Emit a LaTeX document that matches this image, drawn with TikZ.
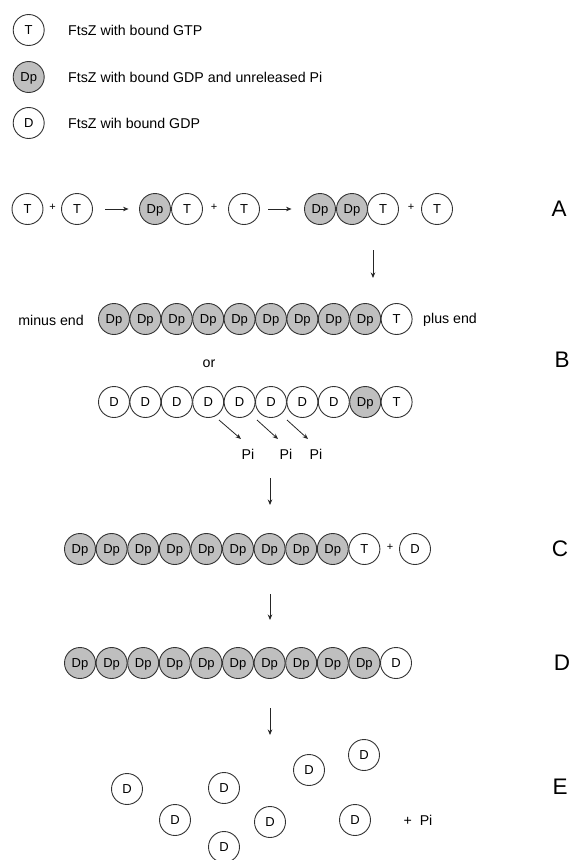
\documentclass[tikz,border=0pt]{standalone}
\usepackage{fontspec}
\setmainfont{Liberation Sans}
\usetikzlibrary{arrows.meta}
\begin{document}
\begin{tikzpicture}[x=1pt,y=-1pt,
  mono/.style={circle, draw=black!80, line width=0.9pt, minimum size=31pt,
    inner sep=0pt, fill=white, text height=9.3pt, text depth=0pt,
    font=\fontsize{13}{13}\selectfont},
  gtp/.style={mono},
  gdpp/.style={mono, fill=black!25},
  gdp/.style={mono},
  lbl/.style={anchor=west, inner sep=0pt, font=\fontsize{14.2}{14.2}\selectfont},
  plus/.style={inner sep=0pt, font=\fontsize{11}{11}\selectfont},
  panel/.style={inner sep=0pt, font=\fontsize{22.5}{22.5}\selectfont},
  txt/.style={inner sep=0pt, font=\fontsize{14.2}{14.2}\selectfont},
  arr/.style={draw=black!85, line width=0.8pt, -{Stealth[length=5.5pt,width=4.5pt]}}]
\useasboundingbox (0,0) rectangle (573,860);

% legend
\node[gtp]  (lT)  at (28.7,30)  {T};
\node[gdpp] (lDp) at (28.7,77)  {Dp};
\node[gdp]  (lD)  at (28.7,123) {D};
\node[lbl] (lTt)  at (68,30)  {FtsZ with bound GTP};
\node[lbl] (lDpt) at (68,77)  {FtsZ with bound GDP and unreleased Pi};
\node[lbl] (lDt)  at (68,123) {FtsZ wih bound GDP};

% A: nucleation
\node[gtp]  (a1) at (27.5,209) {T};
\node[plus] (ap1) at (52.7,207) {+};
\node[gtp]  (a2) at (77,209) {T};
\node[gdpp] (a3) at (155,209) {Dp};
\node[gtp]  (a4) at (187,209) {T};
\node[plus] (ap2) at (214,207) {+};
\node[gtp]  (a5) at (244,209) {T};
\node[gdpp] (a6) at (320,209) {Dp};
\node[gdpp] (a7) at (352,209) {Dp};
\node[gtp]  (a8) at (383,209) {T};
\node[plus] (ap3) at (411,207) {+};
\node[gtp]  (a9) at (437,209) {T};
\draw[arr, shorten <=12.5pt, shorten >=10.5pt] (a2) -- (a3);
\draw[arr, shorten <=8.5pt, shorten >=12.5pt] (a5) -- (a6);
\node[panel] (pA) at (559,209) {A};
\coordinate (ad1) at (373,250);
\coordinate (ad2) at (373,278);
\draw[arr] (ad1) -- (ad2);

% B: filament with GTP cap
\node[txt, anchor=east] (minus) at (84,320) {minus end};
\foreach \i in {0,...,8} \node[gdpp] (b\i) at (114+31.4*\i,319) {Dp};
\node[gtp] (b9) at (114+31.4*9,319) {T};
\node[txt, anchor=west] (plusend) at (423,320) {plus end};
\node[txt] (or) at (209,364) {or};
\foreach \i in {0,...,7} \node[gdp] (c\i) at (114+31.4*\i,402) {D};
\node[gdpp] (c8) at (114+31.4*8,402) {Dp};
\node[gtp]  (c9) at (114+31.4*9,402) {T};
\node[txt] (pi1) at (248,454) {Pi};
\node[txt] (pi2) at (286,454) {Pi};
\node[txt] (pi3) at (316,454) {Pi};
\coordinate (r1) at (219,420);
\coordinate (r2) at (257,420);
\coordinate (r3) at (287,420);
\coordinate (s1) at (241,439);
\coordinate (s2) at (278,439);
\coordinate (s3) at (308,439);
\draw[arr] (r1) -- (s1);
\draw[arr] (r2) -- (s2);
\draw[arr] (r3) -- (s3);
\node[panel] (pB) at (562,360) {B};
\coordinate (bd1) at (270,478);
\coordinate (bd2) at (270,505);
\draw[arr] (bd1) -- (bd2);

% C: GTP monomer exchange
\foreach \i in {0,...,8} \node[gdpp] (d\i) at (80+31.6*\i,549) {Dp};
\node[gtp]  (d9) at (80+31.6*9,549) {T};
\node[plus] (dp) at (390,547) {+};
\node[gdp]  (d10) at (415,549) {D};
\node[panel] (pC) at (560,549) {C};
\coordinate (cd1) at (270,594);
\coordinate (cd2) at (270,620);
\draw[arr] (cd1) -- (cd2);

% D: fully hydrolysed filament
\foreach \i in {0,...,9} \node[gdpp] (e\i) at (80+31.6*\i,663) {Dp};
\node[gdp] (e10) at (80+31.6*10,663) {D};
\node[panel] (pD) at (562,663) {D};
\coordinate (dd1) at (270,708);
\coordinate (dd2) at (270,735);
\draw[arr] (dd1) -- (dd2);

% E: disassembly
\node[gdp] (f1) at (127,789) {D};
\node[gdp] (f2) at (175,820) {D};
\node[gdp] (f3) at (224,788) {D};
\node[gdp] (f4) at (224,847) {D};
\node[gdp] (f5) at (270,822) {D};
\node[gdp] (f6) at (309,770) {D};
\node[gdp] (f7) at (364,755) {D};
\node[gdp] (f8) at (355,820) {D};
\node[txt] (fpi) at (418,820) {+\ \ Pi};
\node[panel] (pE) at (560,787) {E};
\end{tikzpicture}
\end{document}
